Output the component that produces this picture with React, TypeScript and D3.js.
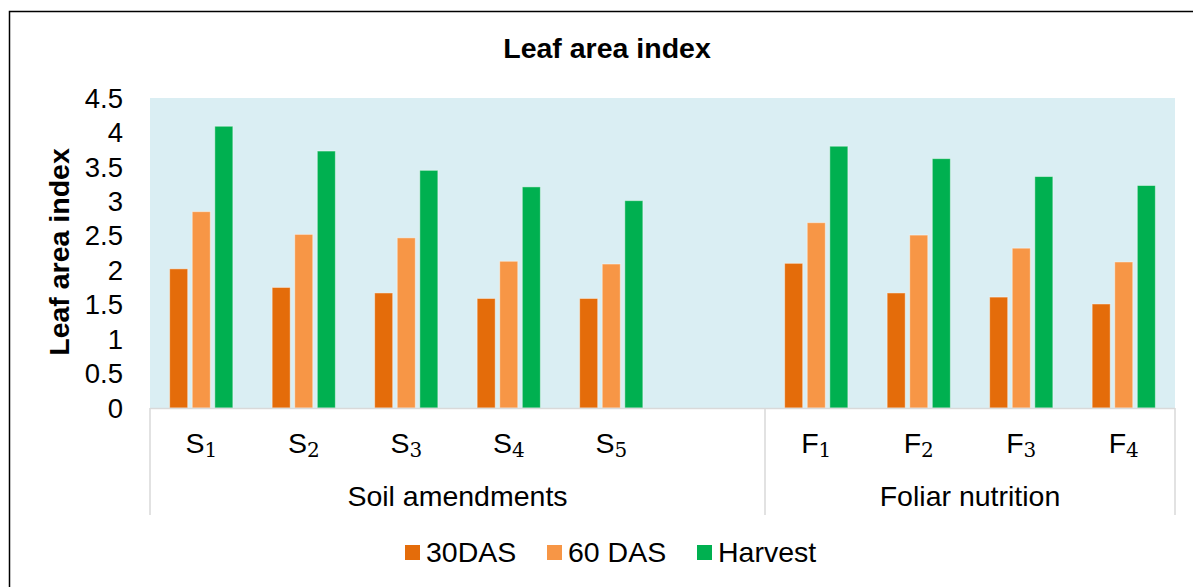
import React, { useRef, useEffect } from "react";
import * as d3 from "d3";

// categories (a blank slot sits between the two groups)
const soilCats = ["S1", "S2", "S3", "S4", "S5"];
const foliarCats = ["F1", "F2", "F3", "F4"];
const groups = [
  { name: "Soil amendments", cats: [...soilCats, "gap"] },
  { name: "Foliar nutrition", cats: foliarCats },
];
const allCats = [...soilCats, "gap", ...foliarCats];

const seriesNames = ["30DAS", "60 DAS", "Harvest"];
const seriesColors = ["#E46C0A", "#F79646", "#00B050"];

const das30 = [2.02, 1.75, 1.67, 1.59, 1.59, 2.1, 1.67, 1.61, 1.51];
const das60 = [2.85, 2.52, 2.47, 2.13, 2.09, 2.69, 2.51, 2.32, 2.12];
const harvest = [4.09, 3.73, 3.45, 3.21, 3.01, 3.8, 3.62, 3.36, 3.23];

const yTicks = [0, 0.5, 1, 1.5, 2, 2.5, 3, 3.5, 4, 4.5];

function App() {
  const svgRef = useRef(null);

  useEffect(() => {
    const width = 1193;
    const height = 587;
    const font = "'Liberation Sans', Arial, sans-serif";
    const plot = { left: 150, right: 1175, top: 98, bottom: 408 };

    const svg = d3.select(svgRef.current);
    svg.selectAll("*").remove();
    svg.attr("width", width).attr("height", height).style("font-family", font);

    // outer frame (only top and left are inside the picture)
    svg.append("path")
      .attr("d", `M9.5,${height} V11.5 H${width}`)
      .attr("fill", "none")
      .attr("stroke", "#000")
      .attr("stroke-width", 1.5);

    svg.append("text")
      .attr("x", 607).attr("y", 58)
      .attr("text-anchor", "middle")
      .attr("font-size", 28.5).attr("font-weight", "bold")
      .text("Leaf area index");

    const x = d3.scaleBand().domain(allCats).range([plot.left, plot.right]).padding(0);
    const xs = d3.scaleBand().domain(seriesNames).range([0, x.bandwidth()])
      .paddingInner(0.2).paddingOuter(0.87);
    const y = d3.scaleLinear().domain([0, 4.5]).range([plot.bottom, plot.top]);

    svg.append("rect")
      .attr("x", plot.left).attr("y", plot.top)
      .attr("width", plot.right - plot.left).attr("height", plot.bottom - plot.top)
      .attr("fill", "#DAEEF3");

    // y tick labels
    svg.append("g")
      .selectAll("text")
      .data(yTicks)
      .join("text")
      .attr("x", 123)
      .attr("y", d => y(d))
      .attr("dy", "0.35em")
      .attr("text-anchor", "end")
      .attr("font-size", 27.5)
      .text(d => String(d));

    svg.append("text")
      .attr("transform", `translate(69,252) rotate(-90)`)
      .attr("text-anchor", "middle")
      .attr("font-size", 28.5).attr("font-weight", "bold")
      .text("Leaf area index");

    // bars
    const dataCats = [...soilCats, ...foliarCats];
    const values = [das30, das60, harvest];
    const rows = dataCats.flatMap((c, i) =>
      seriesNames.map((s, j) => ({ cat: c, series: s, value: values[j][i], color: seriesColors[j] })));

    svg.append("g")
      .selectAll("rect")
      .data(rows)
      .join("rect")
      .attr("x", d => x(d.cat) + xs(d.series))
      .attr("y", d => y(d.value))
      .attr("width", xs.bandwidth())
      .attr("height", d => y(0) - y(d.value))
      .attr("fill", d => d.color)
      .attr("stroke", "rgba(255,255,255,0.45)")
      .attr("stroke-width", 1);

    // category axis: baseline + group separators
    const axis = svg.append("g").attr("stroke", "#D9D9D9").attr("stroke-width", 1.5);
    axis.append("line")
      .attr("x1", plot.left).attr("x2", plot.right)
      .attr("y1", plot.bottom + 0.5).attr("y2", plot.bottom + 0.5);
    const seps = [x(groups[0].cats[0]), x(groups[1].cats[0]), plot.right];
    axis.selectAll(".sep")
      .data(seps)
      .join("line")
      .attr("x1", d => d).attr("x2", d => d)
      .attr("y1", plot.bottom).attr("y2", 515);

    // S1, F2 ... letter plus a serif subscript digit
    const catLabels = svg.append("g")
      .selectAll("text")
      .data(dataCats)
      .join("text")
      .attr("x", d => x(d) + x.bandwidth() / 2)
      .attr("y", 453)
      .attr("text-anchor", "middle")
      .attr("font-size", 28.5);
    catLabels.append("tspan").text(d => d[0]);
    catLabels.append("tspan")
      .attr("dy", 4)
      .attr("font-family", "'DejaVu Serif', serif")
      .attr("font-size", 20)
      .text(d => d.slice(1));

    svg.append("g")
      .selectAll("text")
      .data(groups)
      .join("text")
      .attr("x", d => {
        const a = x(d.cats[0]);
        const b = x(d.cats[d.cats.length - 1]) + x.bandwidth();
        return (a + b) / 2;
      })
      .attr("y", 506)
      .attr("text-anchor", "middle")
      .attr("font-size", 28.5)
      .text(d => d.name);

    // legend
    const legendX = [405, 547, 697];
    const legend = svg.append("g")
      .selectAll("g")
      .data(seriesNames)
      .join("g")
      .attr("transform", (d, i) => `translate(${legendX[i]},545)`);
    legend.append("rect")
      .attr("width", 15).attr("height", 15)
      .attr("fill", (d, i) => seriesColors[i]);
    legend.append("text")
      .attr("x", 21).attr("y", 17)
      .attr("font-size", 28.5)
      .text(d => d);
  }, []);

  return (
    <svg ref={svgRef} style={{ position: "absolute", left: 0, top: 0, display: "block" }}></svg>
  );
}

export default App;
